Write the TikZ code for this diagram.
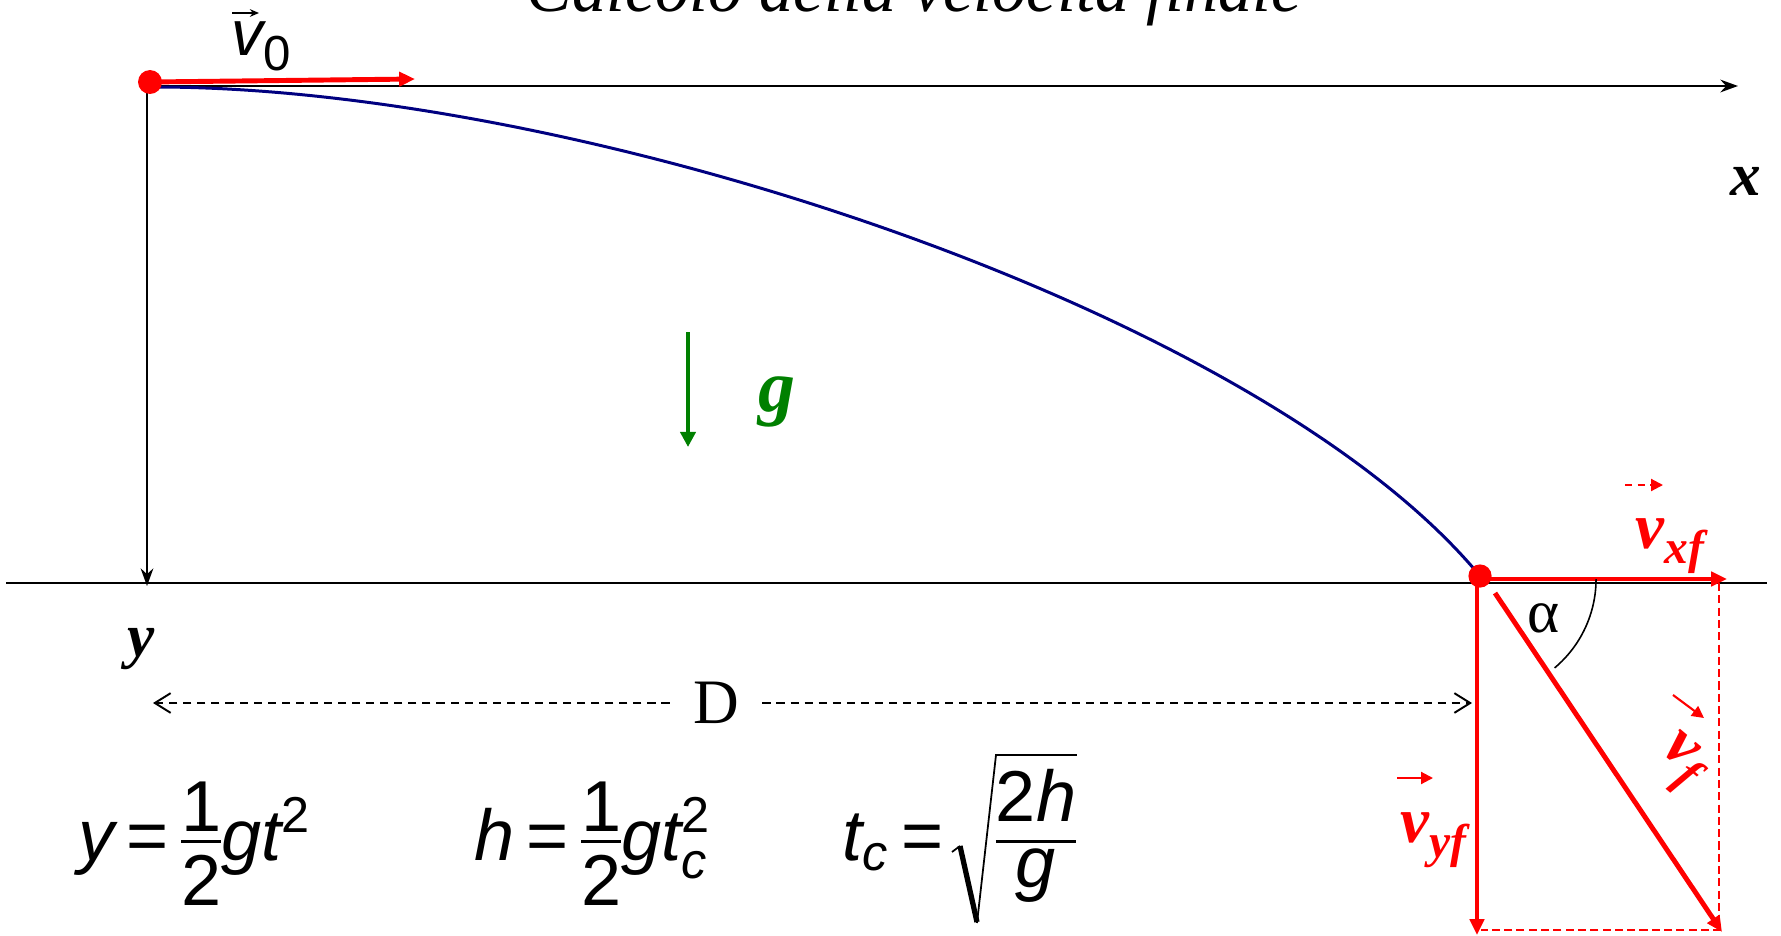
\documentclass[tikz,border=0pt]{standalone}
\usepackage{amsmath}
\usepackage{fontspec}
\setsansfont{Liberation Sans}
\newfontfamily\tnr{Liberation Serif}
\usetikzlibrary{arrows.meta}

\definecolor{traj}{RGB}{0,0,128}
\definecolor{grav}{RGB}{0,128,0}

% letters of the formulas, in Arial-like sans
\newcommand{\sv}[1]{\text{\sffamily\itshape #1}}
\newcommand{\sn}[1]{\text{\sffamily #1}}
\newcommand{\fr}[2]{\frac{\displaystyle #1}{\displaystyle #2}}
\newcommand{\vsub}[2]{#1\raisebox{-4.3pt}{\fontsize{13.5}{15}\selectfont #2}}

\tikzset{
  vec/.style={red,line width=1.4pt,-{Triangle[length=4.5pt,width=4pt]}},
  comp/.style={red,line width=0.55pt,dash pattern=on 2.3pt off 1.2pt},
  axis/.style={line width=0.7pt,-{Stealth[length=5pt,width=3.6pt]}},
  small vec/.style={red,line width=0.6pt,-{Triangle[length=3.4pt,width=3.4pt]}},
  lbl/.style={inner sep=0pt,font=\tnr\bfseries\itshape\fontsize{17.4}{20}\selectfont},
  vlbl/.style={lbl,text=red,font=\tnr\bfseries\itshape\fontsize{18.5}{20}\selectfont},
  formula/.style={inner sep=0pt,anchor=base west,font=\fontsize{20.5}{24}\selectfont,
    execute at begin node={\thickmuskip=3mu\nulldelimiterspace=0pt}},
}

\begin{document}
\begin{tikzpicture}[x=0.01cm,y=-0.01cm]
\clip (0,0) rectangle (1781,936);

\node[anchor=base,inner sep=0pt,font=\tnr\itshape\fontsize{19.4}{22}\selectfont] (title) at (914,11) {Calcolo della velocità finale};

\coordinate (O) at (150,82);
\coordinate (L) at (1480,576);
\coordinate (xend) at (1738,86);
\coordinate (yend) at (147,586);

% ground and axes
\draw[line width=0.6pt] (6,583) -- (1767,583);
\draw[axis] (150,86) -- (xend);
\draw[axis,line width=0.6pt] (147,86) -- (yend);
\node[lbl,anchor=base] (xlab) at (1746,195) {x};
\node[lbl,anchor=base] (ylab) at (141,656) {y};

% trajectory
\draw[traj,line width=0.85pt] (155,87) .. controls (580,87) and (1260,310) .. (L);

% gravity
\coordinate (gtop) at (688,332);
\coordinate (gbot) at (688,447);
\draw[grav,line width=1.4pt,-{Triangle[length=4.3pt,width=4.3pt]}] (gtop) -- (gbot);
\node[anchor=base,inner sep=0pt,text=grav,font=\tnr\bfseries\itshape\fontsize{21}{24}\selectfont] (glab) at (777,411) {g};

% initial velocity
\draw[vec] (O) -- (415,79);
\node[anchor=base west,inner sep=0pt,font=\sffamily\fontsize{18.2}{21}\selectfont] (v0lab) at (231,55) {\itshape v\upshape\raisebox{-4.3pt}{\fontsize{14}{16}\selectfont 0}};
\draw[line width=0.5pt,-{Stealth[length=2.6pt,width=2.2pt]}] (232,13) -- (259,13);

% final velocity and components
\coordinate (vx) at (1727,579);
\coordinate (vy) at (1477,935);
\coordinate (vfa) at (1495,593);
\coordinate (vfb) at (1722,932);
\coordinate (corner) at (1719,930);
\draw[comp] (1719,583) -- (corner) -- (1481,930);
\draw[vec] (L |- vx) -- (vx);
\draw[vec] (1477,583) -- (vy);
\draw[vec] (vfa) -- (vfb);
\draw[line width=0.45pt] (L |- vx) ++(0:33pt) arc[start angle=0,end angle=-50,radius=33pt];
\node[inner sep=0pt,font=\tnr\fontsize{17.4}{20}\selectfont] (alpha) at (1544,618) {α};

\node[vlbl,anchor=base west] (vxlab) at (1635,548) {\vsub{v}{xf}};
\draw[small vec,dash pattern=on 2pt off 1.6pt] (1625,485) -- (1663,485);
\node[vlbl,anchor=base west] (vylab) at (1400,842) {\vsub{v}{yf}};
\draw[small vec] (1397,778) -- (1433,778);
\node[vlbl,rotate=-40] (vflab) at (1679,764) {\vsub{v}{f}};
\draw[small vec] (1673,695) -- (1704,718);

% dots
\fill[red] (O) circle[radius=3.4pt];
\fill[red] (L) circle[radius=3.3pt];

% distance D
\node[anchor=base,inner xsep=6.5pt,inner ysep=0pt,font=\tnr\fontsize{18}{20}\selectfont] (D) at (716,723) {D};
\coordinate (Dl) at (153,703);
\coordinate (Dr) at (1472,703);
\draw[line width=0.55pt,dash pattern=on 2.3pt off 1.7pt,-{Straight Barb[length=4.5pt,width=5.6pt]}] (D.west |- Dl) -- (Dl);
\draw[line width=0.55pt,dash pattern=on 2.3pt off 1.7pt,-{Straight Barb[length=4.5pt,width=5.6pt]}] (D.east |- Dr) -- (Dr);

% formulas
\node[formula] (f1) at (78,860) {$\sv{y}\mathrel{\sn{=}}\fr{\sn{1}}{\rule{0pt}{17pt}\sn{2}}\sv{g}\sv{t}^{\sn{2}}$};
\node[formula] (f2) at (474,860) {$\sv{h}\mathrel{\sn{=}}\fr{\sn{1}}{\rule{0pt}{17pt}\sn{2}}\sv{g}\sv{t}^{\sn{2}}_{\sv{c}}$};
\node[formula] (f3) at (842,860) {$\sv{t}_{\sv{c}}\mathrel{\sn{=}}$};
\node[formula,anchor=base] (f3r) at (1036,860) {$\fr{\rule[-4.5pt]{0pt}{0pt}\sn{2}\sv{h}}{\rule{0pt}{11.7pt}\sv{g}}$};
% radical sign
\draw[line width=0.5pt] (952,852) -- (960,846);
\draw[line width=1.5pt] (960,846) -- (977,922);
\draw[line width=0.5pt,line join=miter] (977,923) -- (996,755) -- (f3r.east |- 0,755);
\end{tikzpicture}
\end{document}
